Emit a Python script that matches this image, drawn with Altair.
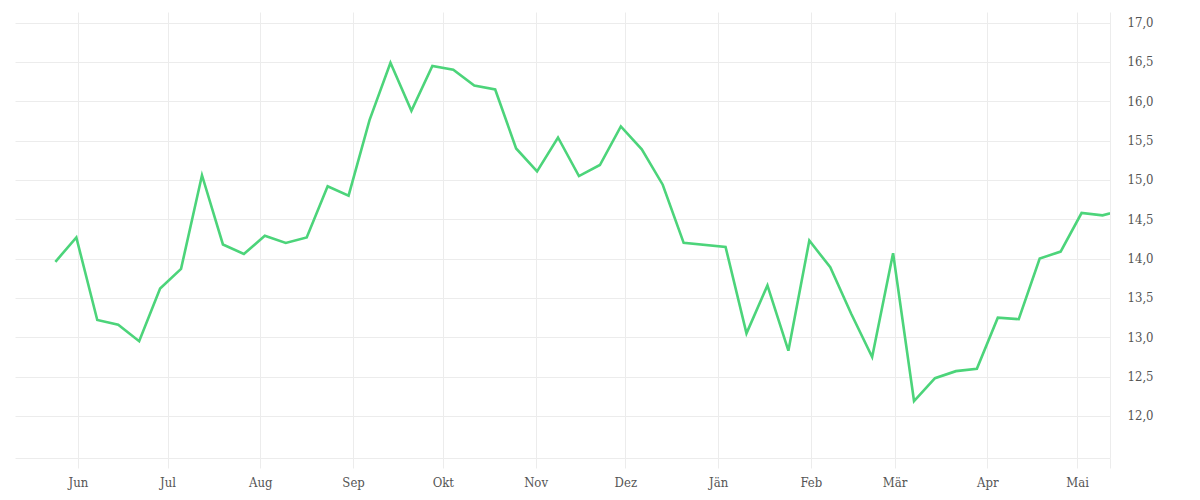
import altair as alt
import pandas as pd

dates = [
    "2022-05-24", "2022-05-31", "2022-06-07", "2022-06-14", "2022-06-21", "2022-06-28",
    "2022-07-05", "2022-07-12", "2022-07-19", "2022-07-26", "2022-08-02", "2022-08-09",
    "2022-08-16", "2022-08-23", "2022-08-30", "2022-09-06", "2022-09-13", "2022-09-20",
    "2022-09-27", "2022-10-04", "2022-10-11", "2022-10-18", "2022-10-25", "2022-11-01",
    "2022-11-08", "2022-11-15", "2022-11-22", "2022-11-29", "2022-12-06", "2022-12-13",
    "2022-12-20", "2023-01-03", "2023-01-10", "2023-01-17", "2023-01-24", "2023-01-31",
    "2023-02-07", "2023-02-14", "2023-02-21", "2023-02-28", "2023-03-07", "2023-03-14",
    "2023-03-21", "2023-03-28", "2023-04-04", "2023-04-11", "2023-04-18", "2023-04-25",
    "2023-05-02", "2023-05-09", "2023-05-16",
]
values = [
    13.96, 14.27, 13.22, 13.16, 12.95, 13.62,
    13.87, 15.06, 14.18, 14.06, 14.29, 14.20,
    14.27, 14.92, 14.80, 15.76, 16.49, 15.88,
    16.45, 16.40, 16.20, 16.15, 15.40, 15.11,
    15.54, 15.05, 15.19, 15.68, 15.39, 14.94,
    14.20, 14.15, 13.05, 13.66, 12.83, 14.23,
    13.89, 13.30, 12.75, 14.07, 12.19, 12.48,
    12.57, 12.60, 13.25, 13.23, 14.00, 14.09,
    14.58, 14.55, 14.62,
]
month_names = ["Jän", "Feb", "Mär", "Apr", "Mai", "Jun", "Jul", "Aug", "Sep", "Okt", "Nov", "Dez"]
tick_months = [(2022, 6), (2022, 7), (2022, 8), (2022, 9), (2022, 10), (2022, 11), (2022, 12),
               (2023, 1), (2023, 2), (2023, 3), (2023, 4), (2023, 5)]
y_ticks = [12.0, 12.5, 13.0, 13.5, 14.0, 14.5, 15.0, 15.5, 16.0, 16.5, 17.0]

df = pd.DataFrame({"date": [d + "T12:00:00Z" for d in dates], "value": values})

FONT = "DejaVu Serif Condensed, DejaVu Serif, serif"
GRID = "#ececec"
LABEL = "#555555"

x_values = [alt.DateTime(year=y, month=m, date=1, utc=True) for y, m in tick_months]
x_values.append(alt.DateTime(year=2023, month=5, date=12, utc=True))

names_js = "[" + ",".join("'" + n + "'" for n in month_names) + "]"

chart = alt.Chart(df).mark_line(
    color="#4cd47a", strokeWidth=2.6, clip=True
).encode(
    x=alt.X(
        "date:T",
        scale=alt.Scale(
            type="utc",
            domain=[alt.DateTime(year=2022, month=5, date=11, utc=True),
                    alt.DateTime(year=2023, month=5, date=12, utc=True)],
            nice=False,
        ),
        axis=alt.Axis(
            title=None,
            values=x_values,
            labelExpr="utcdate(datum.value) == 1 ? " + names_js + "[utcmonth(datum.value)] : ''",
            grid=True,
            gridColor=GRID,
            tickColor=GRID,
            tickSize=10,
            domainColor=GRID,
            labelFont=FONT,
            labelFontSize=13,
            labelColor=LABEL,
            labelPadding=8,
        ),
    ),
    y=alt.Y(
        "value:Q",
        scale=alt.Scale(domain=[11.466, 17.135], nice=False, zero=False),
        axis=alt.Axis(
            title=None,
            orient="right",
            values=y_ticks,
            labelExpr="replace(format(datum.value, '.1f'), '.', ',')",
            grid=True,
            gridColor=GRID,
            ticks=False,
            domain=False,
            labelFont=FONT,
            labelFontSize=13,
            labelColor=LABEL,
            labelPadding=17,
        ),
    ),
).properties(
    width=1095,
    height=446,
    padding={"left": 7, "top": 4, "right": 5, "bottom": 5},
).configure_view(stroke=None)

chart.save("out.html", embed_options={"renderer": "svg", "actions": False})
